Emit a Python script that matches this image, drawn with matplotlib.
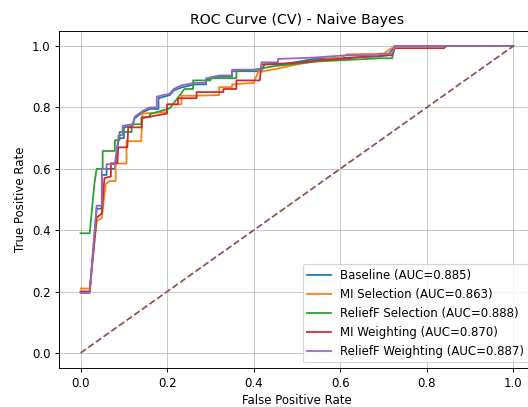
import numpy as np
import matplotlib.pyplot as plt

# model names and cross-validated AUC scores
models = ["Baseline", "MI Selection", "ReliefF Selection", "MI Weighting", "ReliefF Weighting"]
aucs = [0.885, 0.863, 0.888, 0.870, 0.887]

# ROC vertices
fpr_base = [0, 0.021, 0.037, 0.049, 0.049, 0.06, 0.06, 0.079, 0.088, 0.1, 0.1, 0.12, 0.125, 0.145, 0.16, 0.18, 0.18,
            0.206, 0.215, 0.233, 0.264, 0.29, 0.29, 0.32, 0.35, 0.35, 0.418, 0.425, 0.465, 0.54, 0.69, 0.71, 0.726, 1.0]
tpr_base = [0.2, 0.2, 0.47, 0.47, 0.58, 0.58, 0.6, 0.6, 0.70, 0.70, 0.735, 0.74, 0.765, 0.785, 0.795, 0.795, 0.83,
            0.84, 0.855, 0.865, 0.875, 0.875, 0.89, 0.9, 0.9, 0.918, 0.918, 0.94, 0.94, 0.958, 0.966, 0.97, 1.0, 1.0]

fpr_mi_sel = [0, 0.021, 0.037, 0.049, 0.058, 0.067, 0.081, 0.081, 0.106, 0.106, 0.14, 0.143, 0.2, 0.2, 0.233, 0.233,
              0.263, 0.32, 0.32, 0.35, 0.35, 0.40, 0.41, 0.45, 0.5, 0.57, 0.6, 0.615, 0.7, 0.726, 1.0]
tpr_mi_sel = [0.21, 0.21, 0.43, 0.44, 0.55, 0.56, 0.56, 0.617, 0.617, 0.69, 0.69, 0.78, 0.785, 0.81, 0.81, 0.838,
              0.838, 0.84, 0.866, 0.866, 0.875, 0.88, 0.915, 0.925, 0.94, 0.958, 0.96, 0.973, 0.975, 1.0, 1.0]

fpr_rf_sel = [0, 0.021, 0.032, 0.037, 0.051, 0.051, 0.079, 0.079, 0.09, 0.09, 0.118, 0.118, 0.141, 0.141, 0.16, 0.16,
              0.206, 0.24, 0.26, 0.26, 0.30, 0.30, 0.36, 0.36, 0.39, 0.45, 0.55, 0.62, 0.69, 0.72, 0.726, 1.0]
tpr_rf_sel = [0.39, 0.39, 0.553, 0.60, 0.60, 0.658, 0.658, 0.693, 0.693, 0.72, 0.72, 0.745, 0.745, 0.768, 0.768, 0.778,
              0.797, 0.86, 0.86, 0.888, 0.888, 0.895, 0.895, 0.92, 0.92, 0.935, 0.95, 0.955, 0.96, 0.96, 1.0, 1.0]

fpr_mi_w = [0, 0.021, 0.037, 0.049, 0.055, 0.07, 0.07, 0.085, 0.087, 0.108, 0.11, 0.141, 0.141, 0.16, 0.2, 0.2, 0.225,
            0.225, 0.268, 0.268, 0.33, 0.33, 0.36, 0.36, 0.414, 0.418, 0.5, 0.55, 0.6, 0.68, 0.72, 0.726, 0.84, 0.845, 1.0]
tpr_mi_w = [0.2, 0.2, 0.44, 0.455, 0.57, 0.575, 0.618, 0.618, 0.67, 0.67, 0.735, 0.735, 0.765, 0.77, 0.78, 0.81, 0.81,
            0.83, 0.83, 0.85, 0.85, 0.86, 0.86, 0.888, 0.888, 0.94, 0.945, 0.954, 0.958, 0.968, 0.97, 0.993, 0.993, 1.0, 1.0]

fpr_rf_w = [0, 0.021, 0.037, 0.049, 0.049, 0.06, 0.06, 0.079, 0.088, 0.097, 0.097, 0.12, 0.125, 0.145, 0.16, 0.176,
            0.176, 0.206, 0.215, 0.233, 0.264, 0.29, 0.29, 0.32, 0.35, 0.35, 0.418, 0.418, 0.456, 0.456, 0.534, 0.615,
            0.69, 0.69, 0.72, 0.726, 1.0]
tpr_rf_w = [0.195, 0.195, 0.48, 0.48, 0.60, 0.60, 0.615, 0.615, 0.71, 0.71, 0.74, 0.745, 0.77, 0.79, 0.80, 0.80,
            0.835, 0.845, 0.86, 0.872, 0.88, 0.88, 0.895, 0.904, 0.904, 0.923, 0.923, 0.947, 0.947, 0.958, 0.962, 0.97,
            0.97, 0.975, 0.975, 1.0, 1.0]

curves = [(fpr_base, tpr_base), (fpr_mi_sel, tpr_mi_sel), (fpr_rf_sel, tpr_rf_sel),
          (fpr_mi_w, tpr_mi_w), (fpr_rf_w, tpr_rf_w)]

fig = plt.figure(figsize=(528 / 85, 407 / 85), dpi=85)
ax = fig.add_axes([0.1117, 0.0951, 0.9015, 0.8295])

for name, auc, (fpr, tpr) in zip(models, aucs, curves):
    ax.plot(fpr, tpr, label=f"{name} (AUC={auc:.3f})")
ax.plot([0, 1], [0, 1], "--")

ax.set_xlim(-0.05, 1.05)
ax.set_ylim(-0.05, 1.05)
ax.set_xlabel("False Positive Rate")
ax.set_ylabel("True Positive Rate")
ax.set_title("ROC Curve (CV) - Naive Bayes")
ax.legend(loc="lower right")
ax.grid(True, alpha=0.7)

fig.savefig("out.png", dpi=85)
